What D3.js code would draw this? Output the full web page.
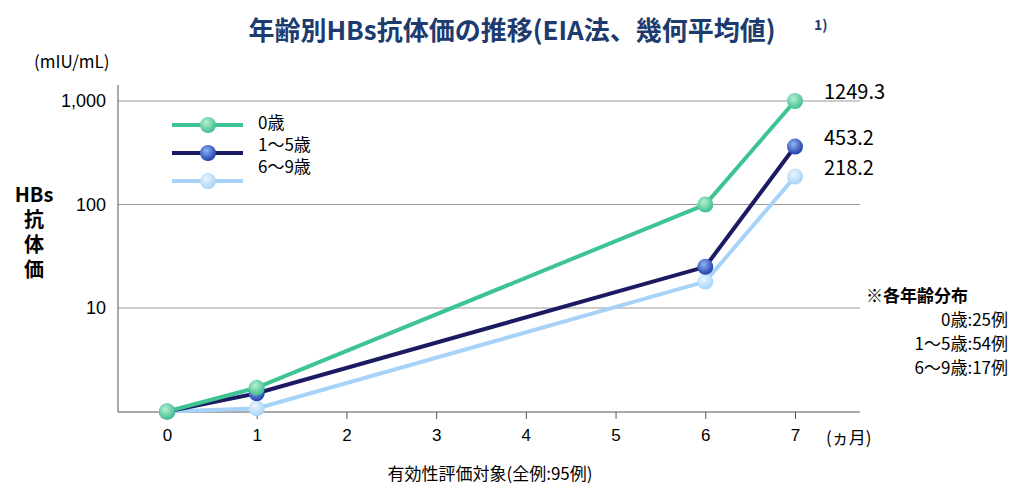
<!DOCTYPE html>
<html><head><meta charset="utf-8">
<script src="https://cdn.jsdelivr.net/npm/d3@7"></script>
<style>body{margin:0;background:#fff;font-family:"Noto Sans CJK JP",sans-serif;}</style>
</head><body><svg id="c" width="1024" height="495"></svg>
<script>
const months = [0, 1, 6, 7];
const seriesNames = ['0歳', '1～5歳', '6～9歳'];
const age0 = [1, 1.7, 100, 1000];
const age1to5 = [1, 1.5, 25, 363];
const age6to9 = [1, 1.07, 18, 186];
const endLabels = ['1249.3', '453.2', '218.2'];
const xTicks = [0, 1, 2, 3, 4, 5, 6, 7];
const yTicks = [10, 100, 1000];
const noteLines = ['※各年齢分布', '0歳:25例', '1～5歳:54例', '6～9歳:17例'];

const colors = ['#3dc492', '#1c1a63', '#a6d3f7'];
const dots = [['#b4f0d4', '#3fbf8c'], ['#8fb3f5', '#1f3fa8'], ['#eaf5ff', '#a6d3f7']];
const all = [age0, age1to5, age6to9];

const svg = d3.select('#c');
const x = d3.scaleLinear().domain([0, 7]).range([167, 795]);
const y = d3.scaleLog().domain([1, 1000]).range([411.5, 101]);
const L = 118, R = 860;

const defs = svg.append('defs');
dots.forEach((d, i) => {
  const g = defs.append('radialGradient').attr('id', 'g' + i).attr('cx', '40%').attr('cy', '35%').attr('r', '65%');
  g.append('stop').attr('offset', '0%').attr('stop-color', d[0]);
  g.append('stop').attr('offset', '100%').attr('stop-color', d[1]);
});

svg.append('text').attr('x', 512).attr('y', 40).attr('text-anchor', 'middle')
  .attr('fill', '#1d3b6e').style('font-size', '26px').style('font-weight', 'bold')
  .text('年齢別HBs抗体価の推移(EIA法、幾何平均値)');
svg.append('text').attr('x', 814).attr('y', 30).attr('fill', '#1d3b6e').style('font-size', '14px').style('font-weight', 'bold').text('1)');

// grid
svg.selectAll('.grid').data(yTicks).join('line')
  .attr('x1', L).attr('x2', R).attr('y1', d => y(d)).attr('y2', d => y(d)).attr('stroke', '#999');
svg.append('line').attr('x1', L).attr('x2', L).attr('y1', 85).attr('y2', 412).attr('stroke', '#555');
svg.append('line').attr('x1', L).attr('x2', R).attr('y1', 412).attr('y2', 412).attr('stroke', '#555');

const xa = svg.append('g').attr('transform', 'translate(0,412)')
  .call(d3.axisBottom(x).tickValues(xTicks).tickSize(7).tickFormat(d3.format('d')));
xa.select('.domain').remove();
xa.selectAll('line').attr('stroke', '#555');
xa.selectAll('text').style('font-size', '17px').attr('fill', '#000').attr('dy', '1.1em');

const ya = svg.append('g').attr('transform', `translate(${L},0)`)
  .call(d3.axisLeft(y).tickValues(yTicks).tickSize(0).tickPadding(12).tickFormat(d3.format(',')));
ya.select('.domain').remove();
ya.selectAll('text').style('font-size', '18px').attr('fill', '#000');

svg.append('text').attr('x', 34).attr('y', 68).style('font-size', '17px').text('(mIU/mL)');
['HBs', '抗', '体', '価'].forEach((t, i) => svg.append('text').attr('x', 34).attr('y', 202 + i * 25)
  .attr('text-anchor', 'middle').style('font-size', '20px').style('font-weight', 'bold').text(t));
svg.append('text').attr('x', 826).attr('y', 444).style('font-size', '17px').text('(ヵ月)');
svg.append('text').attr('x', 490).attr('y', 480).attr('text-anchor', 'middle').style('font-size', '17px')
  .text('有効性評価対象(全例:95例)');

const line = d3.line().x((d, i) => x(months[i])).y(d => y(d));
[2, 1, 0].forEach(i => {
  svg.append('path').datum(all[i]).attr('d', line).attr('fill', 'none')
    .attr('stroke', colors[i]).attr('stroke-width', 4);
});
[2, 1, 0].forEach(i => {
  svg.selectAll('.p' + i).data(all[i]).join('circle')
    .attr('cx', (d, j) => x(months[j])).attr('cy', d => y(d)).attr('r', 8)
    .attr('fill', `url(#g${i})`);
});

all.forEach((s, i) => svg.append('text').attr('x', 824).attr('y', y(s[3]) - 2)
  .style('font-size', '20px').text(endLabels[i]));

// legend
seriesNames.forEach((n, i) => {
  const ly = 125 + i * 28;
  svg.append('line').attr('x1', 172).attr('x2', 243).attr('y1', ly).attr('y2', ly)
    .attr('stroke', colors[i]).attr('stroke-width', 4);
  svg.append('circle').attr('cx', 208).attr('cy', ly).attr('r', 8).attr('fill', `url(#g${i})`);
});
seriesNames.forEach((n, i) => svg.append('text').attr('x', 258).attr('y', 129 + i * 22)
  .style('font-size', '17px').text(n));

noteLines.forEach((t, i) => svg.append('text').attr('x', i ? 1008 : 866).attr('y', 302 + i * 24)
  .attr('text-anchor', i ? 'end' : 'start').style('font-size', '17px').style('font-weight', i ? 'normal' : 'bold').text(t));
</script></body></html>
